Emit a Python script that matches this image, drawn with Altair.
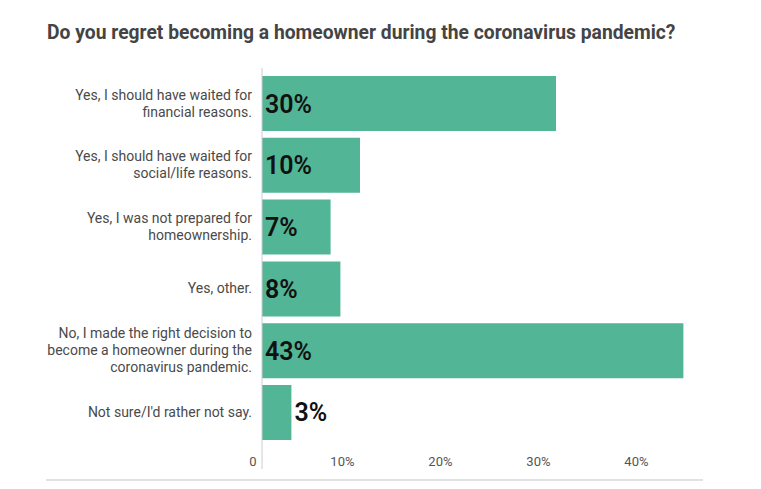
import altair as alt
import pandas as pd

categories = [
    "Yes, I should have waited for|financial reasons.",
    "Yes, I should have waited for|social/life reasons.",
    "Yes, I was not prepared for|homeownership.",
    "Yes, other.",
    "No, I made the right decision to|become a homeowner during the|coronavirus pandemic.",
    "Not sure/I'd rather not say.",
]
values = [30, 10, 7, 8, 43, 3]
tick_values = [0, 10, 20, 30, 40]

df = pd.DataFrame({"category": categories, "value": values})
df["label"] = [f"{v}%" for v in values]

# one row per label line, so each line is its own text item
rows = []
for cat in categories:
    parts = cat.split("|")
    n = len(parts)
    for i, p in enumerate(parts):
        rows.append({"category": cat, "line": p, "k": i - (n - 1) / 2})
lines_df = pd.DataFrame(rows)

W, H = 441, 380
FONT = "Roboto"
LH = 17

y_scale = alt.Scale(paddingInner=0.11, paddingOuter=0.13)

y_enc = alt.Y(
    "category:N",
    sort=categories,
    scale=y_scale,
    axis=alt.Axis(title=None, domain=False, ticks=False, labels=False),
)

x_enc = alt.X(
    "value:Q",
    scale=alt.Scale(domain=[0, 45], nice=False),
    axis=alt.Axis(
        title=None, domain=False, ticks=False, grid=False,
        values=tick_values,
        labelExpr="datum.value == 0 ? '0' : datum.value + '%'",
        labelAlign="right", labelOffset=-6, labelPadding=7,
        labelFontSize=13, labelColor="#555555", labelFont=FONT,
    ),
)

bars = alt.Chart(df).mark_bar(color="#52B596").encode(x=x_enc, y=y_enc)

cat_labels = (
    alt.Chart(lines_df)
    .transform_calculate(off=f"datum.k * {LH} + 28")
    .mark_text(align="right", baseline="middle", fontSize=14, font=FONT,
               color="#4a4a4a")
    .encode(
        x=alt.value(-10),
        y=alt.Y("category:N", sort=categories),
        yOffset=alt.YOffset("off:Q", scale=None),
        text="line:N",
    )
)

labels = (
    alt.Chart(df)
    .transform_calculate(pos="datum.value < 5 ? datum.value : 0")
    .mark_text(align="left", baseline="middle", dx=3, dy=1, fontSize=25,
               fontWeight=600, font=FONT, color="#111111")
    .encode(x="pos:Q", y=alt.Y("category:N", sort=categories), text="label:N")
)

zero_rule = (
    alt.Chart(pd.DataFrame({"z": [0]}))
    .mark_rule(color="#cccccc", strokeWidth=1)
    .encode(x="z:Q", y=alt.value(0), y2=alt.value(H + 21))
)

bottom_rule = (
    alt.Chart(pd.DataFrame({"z": [0]}))
    .mark_rule(color="#d9d9d9", strokeWidth=1.5)
    .encode(x=alt.value(-216), x2=alt.value(W), y=alt.value(H + 32))
)

chart = (
    alt.layer(bars, zero_rule, labels, cat_labels, bottom_rule)
    .properties(
        width=W, height=H,
        background="white",
        autosize=alt.AutoSizeParams(type="none"),
        padding={"left": 254, "top": 60, "right": 50, "bottom": 45},
        title=alt.TitleParams(
            "Do you regret becoming a homeowner during the coronavirus pandemic?",
            anchor="start", frame="group", dx=-215, offset=24, fontSize=19.3,
            fontWeight="bold", font=FONT, color="#444444",
        ),
    )
    .configure_view(stroke=None, strokeWidth=0)
)

chart.save("out.html", embed_options={"renderer": "svg", "actions": False})
